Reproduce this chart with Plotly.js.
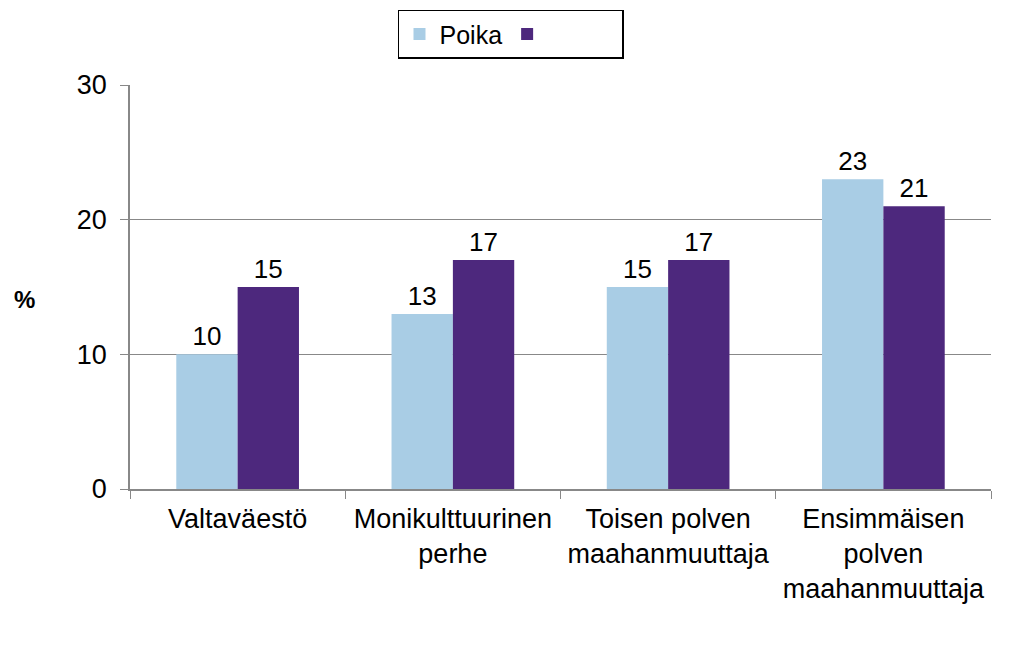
<!DOCTYPE html>
<html>
<head>
<meta charset="utf-8">
<script src="https://cdn.plot.ly/plotly-3.0.1.min.js"></script>
<style>body{margin:0;background:#fff;}#chart{width:1023px;height:666px;}</style>
</head>
<body>
<div id="chart"></div>
<script>
const categories = ["Valtaväestö", "Monikulttuurinen perhe", "Toisen polven maahanmuuttaja", "Ensimmäisen polven maahanmuuttaja"];
const tickLabels = ["Valtaväestö", "Monikulttuurinen<br>perhe", "Toisen polven<br>maahanmuuttaja", "Ensimmäisen<br>polven<br>maahanmuuttaja"];
const seriesNames = ["Poika", "\u00a0".repeat(10)];
const poika = [10, 13, 15, 23];
const tytto = [15, 17, 17, 21];
const yTicks = [0, 10, 20, 30];
const yTitle = "%";

const fam = "Liberation Sans, Arial, sans-serif";
const traces = [
  {type: "bar", name: seriesNames[0], x: categories, y: poika, marker: {color: "#A9CDE5"},
   text: poika.map(String), textposition: "outside", cliponaxis: false, textfont: {size: 26, family: fam, color: "#000"}},
  {type: "bar", name: seriesNames[1], x: categories, y: tytto, marker: {color: "#4D287D"},
   text: tytto.map(String), textposition: "outside", cliponaxis: false, textfont: {size: 26, family: fam, color: "#000"}}
];
const layout = {
  width: 1023, height: 666,
  margin: {l: 130, r: 32, t: 85, b: 177, autoexpand: false},
  paper_bgcolor: "#fff", plot_bgcolor: "#fff",
  font: {family: fam, size: 26, color: "#000"},
  barmode: "group", bargap: 0.43, bargroupgap: 0,
  showlegend: true,
  legend: {orientation: "h", x: 0.4425, xanchor: "center", y: 1.186, yanchor: "top",
           bordercolor: "#000", borderwidth: 1.5, font: {size: 25}, itemwidth: 30},
  xaxis: {type: "category", tickvals: categories, ticktext: tickLabels,
          tickson: "boundaries", ticks: "outside", ticklen: 8, tickcolor: "#888",
          showline: true, linecolor: "#888", linewidth: 1.5, showgrid: false,
          tickfont: {size: 27}, ticklabelstandoff: 5, automargin: false},
  yaxis: {range: [0, 30], tickvals: yTicks, ticks: "outside", ticklen: 8, tickcolor: "#888",
          showline: true, linecolor: "#888", linewidth: 1.5, showgrid: true, gridcolor: "#888", gridwidth: 1.2,
          zeroline: false, tickfont: {size: 27}, ticklabelstandoff: 8, automargin: false},
  annotations: [{text: "<b>" + yTitle + "</b>", xref: "paper", yref: "paper", x: -0.122, y: 0.468,
                 xanchor: "center", yanchor: "middle",
                 showarrow: false, font: {size: 24, family: fam, color: "#000"}}]
};
Plotly.newPlot("chart", traces, layout, {displayModeBar: false});
</script>
</body>
</html>
